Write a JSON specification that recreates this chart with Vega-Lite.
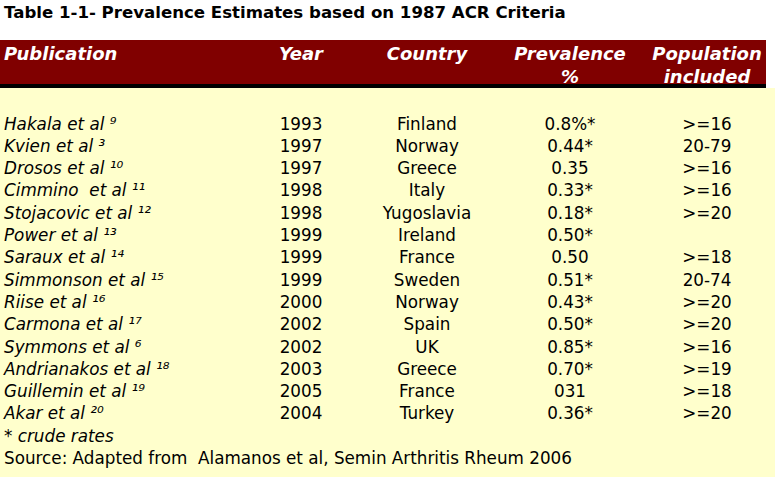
{
  "$schema": "https://vega.github.io/schema/vega-lite/v6.json",
  "width": 779,
  "height": 477,
  "autosize": "none",
  "padding": 0,
  "background": "white",
  "config": {"view": {"stroke": null}, "axis": {"disable": true}, "text": {"font": "DejaVu Sans", "fontSize": 16.8, "color": "black"}},
  "datasets": {
    "rows": [
      {"row": 1, "pub": "Hakala et al ⁹", "Year": "1993", "Country": "Finland", "Prevalence": "0.8%*", "Population": ">=16"},
      {"row": 2, "pub": "Kvien et al ³", "Year": "1997", "Country": "Norway", "Prevalence": "0.44*", "Population": "20-79"},
      {"row": 3, "pub": "Drosos et al ¹⁰", "Year": "1997", "Country": "Greece", "Prevalence": "0.35", "Population": ">=16"},
      {"row": 4, "pub": "Cimmino\u00a0 et al ¹¹", "Year": "1998", "Country": "Italy", "Prevalence": "0.33*", "Population": ">=16"},
      {"row": 5, "pub": "Stojacovic et al ¹²", "Year": "1998", "Country": "Yugoslavia", "Prevalence": "0.18*", "Population": ">=20"},
      {"row": 6, "pub": "Power et al ¹³", "Year": "1999", "Country": "Ireland", "Prevalence": "0.50*", "Population": ""},
      {"row": 7, "pub": "Saraux et al ¹⁴", "Year": "1999", "Country": "France", "Prevalence": "0.50", "Population": ">=18"},
      {"row": 8, "pub": "Simmonson et al ¹⁵", "Year": "1999", "Country": "Sweden", "Prevalence": "0.51*", "Population": "20-74"},
      {"row": 9, "pub": "Riise et al ¹⁶", "Year": "2000", "Country": "Norway", "Prevalence": "0.43*", "Population": ">=20"},
      {"row": 10, "pub": "Carmona et al ¹⁷", "Year": "2002", "Country": "Spain", "Prevalence": "0.50*", "Population": ">=20"},
      {"row": 11, "pub": "Symmons et al ⁶", "Year": "2002", "Country": "UK", "Prevalence": "0.85*", "Population": ">=16"},
      {"row": 12, "pub": "Andrianakos et al ¹⁸", "Year": "2003", "Country": "Greece", "Prevalence": "0.70*", "Population": ">=19"},
      {"row": 13, "pub": "Guillemin et al ¹⁹", "Year": "2005", "Country": "France", "Prevalence": "031", "Population": ">=18"},
      {"row": 14, "pub": "Akar et al ²⁰", "Year": "2004", "Country": "Turkey", "Prevalence": "0.36*", "Population": ">=20"}
    ],
    "header": [
      {"Publication": "Publication", "Year": "Year", "Country": "Country", "Prevalence": "Prevalence\n%", "Population": "Population\nincluded"}
    ],
    "notes": [
      {"row": 15, "kind": "foot", "note": "* crude rates"},
      {"row": 16, "kind": "source", "note": "Source: Adapted from\u00a0 Alamanos et al, Semin Arthritis Rheum 2006"}
    ],
    "title": [{"t": "Table 1-1- Prevalence Estimates based on 1987 ACR Criteria"}],
    "frame": [{"part": "body"}]
  },
  "layer": [
    {
      "data": {"name": "frame"},
      "mark": {"type": "rect", "color": "#FFFFCC"},
      "encoding": {
        "x": {"datum": 0, "type": "quantitative", "scale": {"domain": [0, 779], "range": [0, 779], "nice": false, "zero": false}},
        "x2": {"datum": 775},
        "y": {"datum": -0.570, "type": "quantitative", "scale": {"domain": [-4.5157, 16.8744], "range": [0, 477], "nice": false, "zero": false}},
        "y2": {"datum": 16.8744}
      }
    },
    {
      "data": {"name": "frame"},
      "mark": {"type": "rect", "color": "#800000"},
      "encoding": {
        "x": {"datum": 0, "type": "quantitative"},
        "x2": {"datum": 766},
        "y": {"datum": -2.722, "type": "quantitative"},
        "y2": {"datum": -0.749}
      }
    },
    {
      "data": {"name": "frame"},
      "mark": {"type": "rect", "color": "#000000"},
      "encoding": {
        "x": {"datum": 0, "type": "quantitative"},
        "x2": {"datum": 766},
        "y": {"datum": -0.749, "type": "quantitative"},
        "y2": {"datum": -0.570}
      }
    },
    {
      "data": {"name": "title"},
      "mark": {"type": "text", "align": "left", "baseline": "middle", "fontWeight": "bold", "fontSize": 16.6, "dy": 1},
      "encoding": {
        "x": {"datum": 4, "type": "quantitative"},
        "y": {"datum": -3.978, "type": "quantitative"},
        "text": {"field": "t"}
      }
    },
    {
      "data": {"name": "header"},
      "mark": {"type": "text", "align": "left", "baseline": "alphabetic", "fontWeight": "bold", "fontStyle": "italic", "fontSize": 18, "color": "white", "lineBreak": "\n", "lineHeight": 22.5, "dy": 1},
      "encoding": {
        "x": {"datum": 4, "type": "quantitative"},
        "y": {"datum": -1.848, "type": "quantitative"},
        "text": {"field": "Publication"}
      }
    },
    {
      "data": {"name": "header"},
      "mark": {"type": "text", "align": "center", "baseline": "alphabetic", "fontWeight": "bold", "fontStyle": "italic", "fontSize": 18, "color": "white", "lineBreak": "\n", "lineHeight": 22.5, "dy": 1},
      "encoding": {
        "x": {"datum": 301, "type": "quantitative"},
        "y": {"datum": -1.848, "type": "quantitative"},
        "text": {"field": "Year"}
      }
    },
    {
      "data": {"name": "header"},
      "mark": {"type": "text", "align": "center", "baseline": "alphabetic", "fontWeight": "bold", "fontStyle": "italic", "fontSize": 18, "color": "white", "lineBreak": "\n", "lineHeight": 22.5, "dy": 1},
      "encoding": {
        "x": {"datum": 427, "type": "quantitative"},
        "y": {"datum": -1.848, "type": "quantitative"},
        "text": {"field": "Country"}
      }
    },
    {
      "data": {"name": "header"},
      "mark": {"type": "text", "align": "center", "baseline": "alphabetic", "fontWeight": "bold", "fontStyle": "italic", "fontSize": 18, "color": "white", "lineBreak": "\n", "lineHeight": 22.5, "dy": 1},
      "encoding": {
        "x": {"datum": 570, "type": "quantitative"},
        "y": {"datum": -1.848, "type": "quantitative"},
        "text": {"field": "Prevalence"}
      }
    },
    {
      "data": {"name": "header"},
      "mark": {"type": "text", "align": "center", "baseline": "alphabetic", "fontWeight": "bold", "fontStyle": "italic", "fontSize": 18, "color": "white", "lineBreak": "\n", "lineHeight": 22.5, "dy": 1},
      "encoding": {
        "x": {"datum": 707, "type": "quantitative"},
        "y": {"datum": -1.848, "type": "quantitative"},
        "text": {"field": "Population"}
      }
    },
    {
      "data": {"name": "rows"},
      "mark": {"type": "text", "align": "left", "baseline": "middle", "fontStyle": "italic", "dy": 1.5},
      "encoding": {
        "x": {"datum": 4, "type": "quantitative"},
        "y": {"field": "row", "type": "quantitative"},
        "text": {"field": "pub"}
      }
    },
    {
      "data": {"name": "rows"},
      "mark": {"type": "text", "align": "center", "baseline": "middle", "dy": 1.5},
      "encoding": {
        "x": {"datum": 301, "type": "quantitative"},
        "y": {"field": "row", "type": "quantitative"},
        "text": {"field": "Year"}
      }
    },
    {
      "data": {"name": "rows"},
      "mark": {"type": "text", "align": "center", "baseline": "middle", "dy": 1.5},
      "encoding": {
        "x": {"datum": 427, "type": "quantitative"},
        "y": {"field": "row", "type": "quantitative"},
        "text": {"field": "Country"}
      }
    },
    {
      "data": {"name": "rows"},
      "mark": {"type": "text", "align": "center", "baseline": "middle", "dy": 1.5},
      "encoding": {
        "x": {"datum": 570, "type": "quantitative"},
        "y": {"field": "row", "type": "quantitative"},
        "text": {"field": "Prevalence"}
      }
    },
    {
      "data": {"name": "rows"},
      "mark": {"type": "text", "align": "center", "baseline": "middle", "dy": 1.5},
      "encoding": {
        "x": {"datum": 707, "type": "quantitative"},
        "y": {"field": "row", "type": "quantitative"},
        "text": {"field": "Population"}
      }
    },
    {
      "data": {"name": "notes"},
      "transform": [{"filter": "datum.kind === 'foot'"}],
      "mark": {"type": "text", "align": "left", "baseline": "middle", "fontStyle": "italic", "dy": 1.5},
      "encoding": {
        "x": {"datum": 4, "type": "quantitative"},
        "y": {"field": "row", "type": "quantitative"},
        "text": {"field": "note"}
      }
    },
    {
      "data": {"name": "notes"},
      "transform": [{"filter": "datum.kind === 'source'"}],
      "mark": {"type": "text", "align": "left", "baseline": "middle", "dy": 1.5},
      "encoding": {
        "x": {"datum": 4, "type": "quantitative"},
        "y": {"field": "row", "type": "quantitative"},
        "text": {"field": "note"}
      }
    }
  ]
}
